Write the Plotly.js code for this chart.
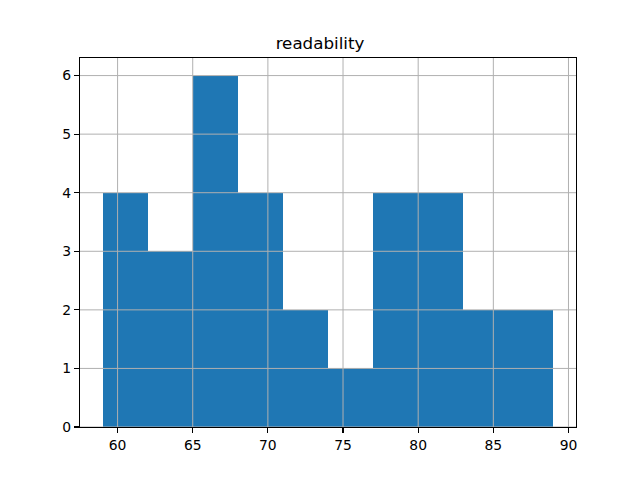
<!DOCTYPE html>
<html>
<head>
<meta charset="utf-8">
<script src="https://cdn.plot.ly/plotly-3.0.1.min.js"></script>
<style>html,body{margin:0;padding:0;background:#fff;}</style>
</head>
<body>
<div id="chart" style="width:640px;height:480px;"></div>
<script>
// Histogram bins (left edges) and counts
const binStarts = [59, 62, 65, 68, 71, 74, 77, 80, 83, 86];
const binWidth = 3;
const counts = [4, 3, 6, 4, 2, 1, 4, 4, 2, 2];
const xTicks = [60, 65, 70, 75, 80, 85, 90];
const yTicks = [0, 1, 2, 3, 4, 5, 6];
const titleText = "readability";

const centers = binStarts.map(s => s + binWidth / 2);

const trace = {
  type: 'bar',
  x: centers,
  y: counts,
  width: binStarts.map(() => binWidth),
  marker: {color: '#1f77b4', line: {width: 0}},
  hoverinfo: 'x+y'
};

const gridColor = '#b0b0b0';
const shapes = [];
xTicks.forEach(v => shapes.push({type: 'line', xref: 'x', yref: 'paper', x0: v, x1: v, y0: 0, y1: 1, layer: 'above', line: {color: gridColor, width: 1}}));
yTicks.forEach(v => shapes.push({type: 'line', xref: 'paper', yref: 'y', x0: 0, x1: 1, y0: v, y1: v, layer: 'above', line: {color: gridColor, width: 1}}));

const axisCommon = {
  showgrid: false,
  zeroline: false,
  showline: true,
  linecolor: '#000',
  linewidth: 1.1,
  mirror: true,
  ticks: 'outside',
  ticklen: 5,
  tickwidth: 1.1,
  tickcolor: '#000',
  tickfont: {family: 'DejaVu Sans', size: 13.9, color: '#000'},
  layer: 'above traces'
};

const layout = {
  width: 640,
  height: 480,
  margin: {l: 80, r: 64, t: 58, b: 53},
  paper_bgcolor: '#fff',
  plot_bgcolor: '#fff',
  showlegend: false,
  bargap: 0,
  title: {text: titleText, font: {family: 'DejaVu Sans', size: 16.7, color: '#000'}, x: 0.5, xanchor: 'center', y: 1 - 43/480, yanchor: 'middle'},
  xaxis: Object.assign({}, axisCommon, {range: [57.5, 90.5], tickvals: xTicks, ticktext: xTicks.map(String)}),
  yaxis: Object.assign({}, axisCommon, {range: [0, 6.3], tickvals: yTicks, ticktext: yTicks.map(String)}),
  shapes: shapes
};

Plotly.newPlot('chart', [trace], layout, {displayModeBar: false, staticPlot: true});
</script>
</body>
</html>
